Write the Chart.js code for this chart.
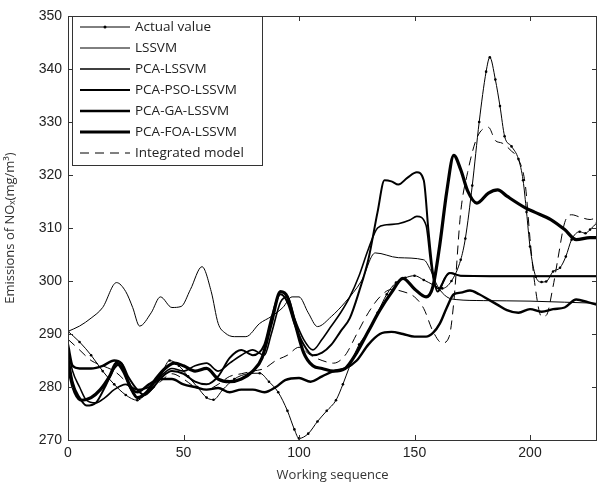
<!DOCTYPE html>
<html>
<head>
<meta charset="utf-8">
<script src="https://cdn.jsdelivr.net/npm/chart.js@4.4.0/dist/chart.umd.min.js"></script>
<style>
  html, body { margin: 0; padding: 0; background: #fff; }
</style>
</head>
<body>
<canvas id="nox" width="601" height="488"></canvas>
<script>
// values (x = working sequence, y = NOx mg/m3)
const actualX = [0, 5, 10, 15, 20, 25, 30, 35, 40, 44, 48, 52, 56, 60, 63, 67, 72, 78, 83, 87, 91, 95, 98, 100, 104, 108, 112, 116, 119, 122, 126, 130, 134, 138, 142, 146, 150, 154, 158, 162, 166, 170, 172, 175, 178, 181, 182.6, 185, 187, 189, 192, 195, 197, 198.5, 200, 202.5, 205, 207, 210, 213, 215.5, 218, 221.5, 224, 226, 229];
const actualY = [290.5, 288.5, 286, 283, 280.5, 278.5, 277.5, 279.5, 282, 285, 284, 282, 280, 278, 277.6, 279.5, 281.5, 282.5, 282.6, 281, 279, 275.5, 272, 270.3, 271.2, 273.5, 275.5, 277.5, 280.5, 284, 288, 290.5, 294, 297.5, 299.7, 300.6, 301, 300.2, 299.3, 298.6, 300, 304, 308, 318, 330, 339.5, 342.2, 338, 333, 327.3, 325.4, 323, 319, 313, 306.5, 300.8, 299.8, 299.9, 301.8, 302.5, 304.6, 307.8, 309.3, 309, 309.7, 311];

const lssvmX = [0, 5, 10, 15, 21, 25, 28, 31, 36, 40, 45, 49, 53, 58, 62, 65, 68, 72, 77, 83, 88, 93, 97, 100, 104, 108, 114, 120, 127, 133, 143, 154, 157, 160, 164, 168, 180, 200, 215, 229];
const lssvmY = [290.5, 291.5, 293, 295, 299.7, 298, 295, 291.5, 294, 297, 295, 295.2, 298.4, 302.7, 298, 292, 290.2, 289.5, 289.5, 292, 293.3, 295, 297, 297, 294, 291.4, 293.3, 296, 300, 305.3, 304.4, 304, 302, 299, 297, 296.5, 296.3, 296.2, 296, 295.8];

const pcaX = [0, 2, 5, 8, 12, 16, 20, 25, 30, 35, 40, 45, 50, 55, 60, 65, 70, 75, 80, 85, 88, 92, 95, 98, 102, 106, 110, 114, 118, 122, 126, 130, 134, 138, 143, 148, 151, 155, 157, 159, 161, 163, 166, 170, 180, 200, 229];
const pcaY = [287, 283, 280, 277.5, 277, 278, 279.5, 280.5, 279.5, 280, 282, 283.5, 283, 284, 284.5, 283, 284.5, 286, 287, 286, 290, 296, 297, 293, 289, 287, 289, 291.5, 294, 297, 301, 306, 310, 310.6, 310.8, 311.5, 312.2, 310.5, 303.5, 299, 298.5, 300.5, 301.5, 301, 300.9, 300.9, 300.9];

const psoX = [0, 2, 5, 8, 12, 16, 20, 23, 26, 30, 33, 37, 41, 45, 50, 55, 60, 65, 70, 75, 80, 85, 88, 92, 95, 98, 102, 106, 110, 114, 118, 122, 126, 130, 134, 137, 140, 143, 147, 151, 154, 156, 158, 160, 162, 165, 170, 200, 229];
const psoY = [286, 281, 278, 276.5, 277, 280, 283.5, 284.5, 282, 279.5, 278.5, 280, 282, 283, 282.5, 281, 280.5, 282, 285.5, 287, 286, 288, 293, 297.5, 296, 292, 288, 286, 286.5, 288, 290.5, 293, 298, 304, 313, 319, 318.8, 318.2, 319.5, 320.5, 319, 309.7, 301.5, 298, 299.5, 301.5, 301, 300.9, 300.9];

const gaX = [0, 2, 5, 10, 15, 20, 23, 26, 30, 35, 40, 45, 50, 55, 60, 65, 70, 75, 80, 85, 90, 94, 100, 105, 110, 115, 120, 125, 130, 135, 140, 145, 150, 155, 158, 161, 164, 167, 170, 174, 178, 182, 186, 190, 195, 200, 205, 210, 215, 220, 225, 229];
const gaY = [288, 284, 283.5, 283.5, 284, 285, 284.5, 281, 279, 280.5, 281.5, 281.5, 280.5, 280, 279.5, 279.8, 279, 279.5, 279.5, 279, 280, 281.3, 281.7, 281, 282, 283, 283.5, 285, 288, 290, 290.4, 290, 289.5, 289.5, 290.2, 292, 295, 297.5, 297.8, 298.2, 297.5, 296.5, 295.5, 294.5, 294, 294.7, 294.2, 294.7, 295, 296.5, 296, 295.5];

const foaX = [0, 1, 3, 6, 10, 14, 18, 21, 24, 27, 30, 34, 38, 42, 46, 50, 55, 60, 65, 70, 75, 80, 84, 88, 92, 95, 98, 102, 106, 110, 115, 120, 125, 130, 135, 140, 145, 150, 155, 158, 161, 164, 167, 170, 173, 177, 182, 186, 190, 198, 202, 209, 215, 220, 226, 229];
const foaY = [285, 282, 279, 277.5, 278, 279.5, 282, 284.5, 283, 280, 278, 279, 281.5, 283.5, 284.5, 284, 283, 283.5, 281.5, 281, 281.5, 283, 285.5, 292, 298, 297, 292.5, 286.5, 284, 283.5, 283, 283.5, 286.5, 290.5, 294.5, 297.8, 300.5, 298.5, 297, 299, 307, 317, 323.7, 321, 317, 314.7, 316.6, 317.2, 316, 313.8, 313, 311.6, 309.7, 307.8, 308.2, 308.2];

const integX = [0, 5, 10, 15, 20, 25, 30, 35, 40, 45, 50, 55, 60, 65, 70, 75, 80, 85, 90, 95, 100, 105, 110, 115, 120, 125, 130, 135, 140, 145, 150, 154, 158, 162, 165, 167, 170, 173, 177, 182, 185, 188, 192, 195, 198, 200, 202, 205, 207, 210, 212, 215, 218, 222, 226, 229];
const integY = [289, 287, 285, 284, 283, 281, 278, 279, 281, 282.5, 281.5, 280, 279.5, 280.5, 282, 282.5, 283, 283.5, 285, 286, 287.5, 286, 285, 284.5, 286, 290, 294, 297, 298.4, 298, 297, 294.8, 290.5, 288.3, 289.5, 296, 313, 320.5, 327, 329, 326.5, 326, 324.5, 323, 318, 308, 299.7, 293.3, 293.5, 299, 304, 311, 312.5, 312, 311.6, 312];

const xTicks = [0, 50, 100, 150, 200];
const yTicks = [270, 280, 290, 300, 310, 320, 330, 340, 350];

function pts(xs, ys) {
    return xs.map((x, i) => ({ x: x, y: ys[i] }));
}

Chart.defaults.font.family = '"Liberation Sans", Arial, sans-serif';
Chart.defaults.color = '#222';

const series = [
    { label: 'Actual value', data: pts(actualX, actualY), borderWidth: 1, pointRadius: 1.3, dash: [] },
    { label: 'LSSVM', data: pts(lssvmX, lssvmY), borderWidth: 1, pointRadius: 0, dash: [] },
    { label: 'PCA-LSSVM', data: pts(pcaX, pcaY), borderWidth: 1.6, pointRadius: 0, dash: [] },
    { label: 'PCA-PSO-LSSVM', data: pts(psoX, psoY), borderWidth: 2, pointRadius: 0, dash: [] },
    { label: 'PCA-GA-LSSVM', data: pts(gaX, gaY), borderWidth: 2.4, pointRadius: 0, dash: [] },
    { label: 'PCA-FOA-LSSVM', data: pts(foaX, foaY), borderWidth: 3.2, pointRadius: 0, dash: [] },
    { label: 'Integrated model', data: pts(integX, integY), borderWidth: 1, pointRadius: 0, dash: [9, 6] }
];

// box round the plot + inward ticks like the matlab figure
const framePlugin = {
    id: 'frame',
    afterDatasetsDraw(chart) {
        const { ctx, chartArea: a, scales: { x, y } } = chart;
        ctx.save();
        ctx.strokeStyle = '#333';
        ctx.lineWidth = 1;
        ctx.strokeRect(a.left + 0.5, a.top + 0.5, a.right - a.left - 1, a.bottom - a.top);
        ctx.beginPath();
        xTicks.forEach(v => {
            const px = Math.round(x.getPixelForValue(v)) + 0.5;
            ctx.moveTo(px, a.bottom); ctx.lineTo(px, a.bottom - 5);
            ctx.moveTo(px, a.top); ctx.lineTo(px, a.top + 5);
        });
        yTicks.forEach(v => {
            const py = Math.round(y.getPixelForValue(v)) + 0.5;
            ctx.moveTo(a.left, py); ctx.lineTo(a.left + 5, py);
            ctx.moveTo(a.right, py); ctx.lineTo(a.right - 5, py);
        });
        ctx.stroke();
        ctx.restore();
    }
};

// legend box inside the top left corner
const legendBox = {
    id: 'legendBox',
    afterDraw(chart) {
        const { ctx, chartArea: a } = chart;
        const left = a.left + 4, top = a.top, w = 190, h = 149;
        ctx.save();
        ctx.fillStyle = '#fff';
        ctx.fillRect(left, top, w, h);
        ctx.strokeStyle = '#333';
        ctx.lineWidth = 1;
        ctx.strokeRect(left + 0.5, top + 0.5, w, h);
        ctx.font = '13.5px "Open Sans", sans-serif';
        ctx.textBaseline = 'middle';
        chart.data.datasets.forEach((ds, i) => {
            const yy = top + 11 + i * 21;
            ctx.strokeStyle = '#000';
            ctx.lineWidth = ds.borderWidth;
            ctx.setLineDash(ds.borderDash || []);
            ctx.beginPath();
            ctx.moveTo(left + 8, yy);
            ctx.lineTo(left + 58, yy);
            ctx.stroke();
            ctx.setLineDash([]);
            if (ds.pointRadius > 0) {
                ctx.fillStyle = '#000';
                ctx.beginPath();
                ctx.arc(left + 33, yy, 1.5, 0, Math.PI * 2);
                ctx.fill();
            }
            ctx.fillStyle = '#222';
            ctx.fillText(ds.label, left + 63, yy);
        });
        ctx.restore();
    }
};

new Chart(document.getElementById('nox'), {
    type: 'line',
    data: {
        datasets: series.map(s => ({
            label: s.label,
            data: s.data,
            borderColor: '#000',
            backgroundColor: '#000',
            borderWidth: s.borderWidth,
            borderDash: s.dash,
            pointRadius: s.pointRadius,
            pointBorderWidth: 0,
            pointBackgroundColor: '#000',
            cubicInterpolationMode: 'monotone',
            fill: false
        }))
    },
    options: {
        responsive: false,
        animation: false,
        devicePixelRatio: 1,
        layout: { padding: { left: 0, right: 1, top: 16, bottom: 0 } },
        plugins: {
            legend: { display: false },
            tooltip: { enabled: false }
        },
        scales: {
            x: {
                type: 'linear',
                min: 0,
                max: 229,
                grid: { display: false, drawTicks: false },
                border: { display: false },
                afterBuildTicks: scale => { scale.ticks = xTicks.map(v => ({ value: v })); },
                afterFit: scale => { scale.height = 48; },
                ticks: { padding: 5, font: { size: 14 }, color: '#222' },
                title: {
                    display: true,
                    text: 'Working sequence',
                    font: { family: '"Open Sans", sans-serif', size: 13 },
                    color: '#333',
                    padding: { top: 0, bottom: 5 }
                }
            },
            y: {
                type: 'linear',
                min: 270,
                max: 350,
                grid: { display: false, drawTicks: false },
                border: { display: false },
                afterBuildTicks: scale => { scale.ticks = yTicks.map(v => ({ value: v })); },
                afterFit: scale => { scale.width = 68; },
                ticks: { padding: 6, font: { size: 14 }, color: '#222' },
                title: {
                    display: true,
                    text: 'Emissions of NOₓ(mg/m³)',
                    font: { family: '"Open Sans", sans-serif', size: 13 },
                    color: '#333',
                    padding: { top: 2, bottom: 0 }
                }
            }
        }
    },
    plugins: [framePlugin, legendBox]
});
</script>
</body>
</html>
